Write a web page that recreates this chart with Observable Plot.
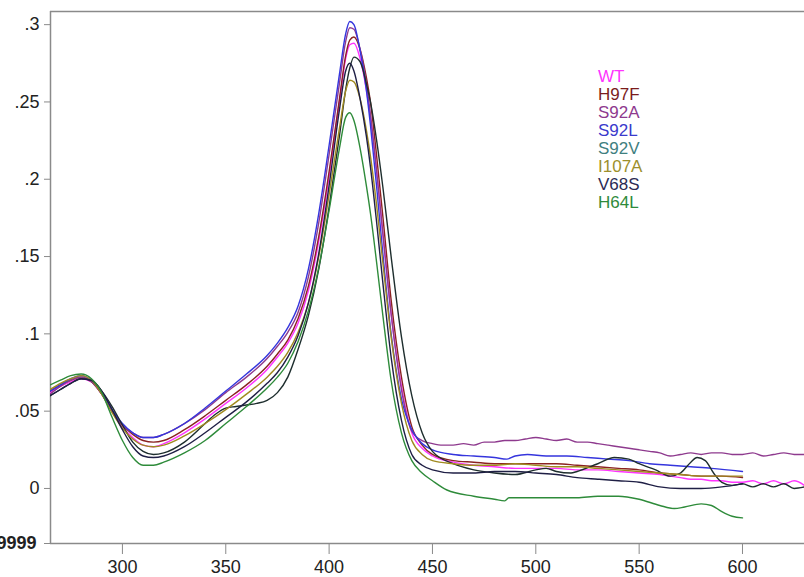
<!DOCTYPE html>
<html><head><meta charset="utf-8">
<script src="https://cdn.jsdelivr.net/npm/d3@7"></script>
<script src="https://cdn.jsdelivr.net/npm/@observablehq/plot@0.6"></script>
<style>
body{margin:0;background:#fff;}
#wrap{position:relative;width:804px;height:577px;font-family:"Liberation Sans",Arial,sans-serif;overflow:hidden;}
#legend{position:absolute;left:598px;top:68px;font-size:17px;line-height:18px;}
#legend div{white-space:nowrap;}
</style></head><body><div id="wrap"><div id="legend"></div></div>
<script>
const names = ["WT","H97F","S92A","S92L","S92V","I107A","V68S","H64L"];
const legendColors = ["#ff33ff","#7b1c1c","#8e3a8e","#3a3acc","#3f8080","#9c8f2c","#2b2b55","#2f8a3a"];
const lineColors = ["#ff33ff","#8b2222","#8e3a8e","#3535dd","#1e2e2e","#a08a20","#1f1f45","#2e8b3a"];
const xTicks = [300,350,400,450,500,550,600];
const yTicks = [0,.05,.1,.15,.2,.25,.3];
const xDomain = [265.2,630];
const yDomain = [-0.0356,0.3085];
const yMinLabel = "-.0359999";

const wt = [[265,.062],[270,.066],[275,.069],[280,.071],[285,.069],[290,.061],[295,.050],[300,.040],[305,.033],[310,.028],[315,.027],[320,.029],[330,.036],[340,.045],[350,.055],[360,.065],[370,.077],[375,.085],[380,.094],[385,.107],[390,.128],[395,.160],[400,.202],[405,.250],[408,.278],[410,.287],[412,.288],[415,.278],[418,.258],[420,.240],[423,.205],[426,.165],[430,.113],[435,.066],[440,.036],[445,.026],[450,.021],[460,.017],[470,.015],[480,.014],[490,.013],[500,.013],[510,.013],[520,.012],[530,.012],[540,.011],[550,.010],[560,.009],[565,.008],[570,.007],[575,.006],[580,.006],[585,.005],[590,.005],[595,.004],[600,.004],[605,.005],[610,.003],[615,.005],[620,.003],[625,.005],[630,.002]];
const h97f = [[265,.063],[270,.067],[275,.070],[280,.072],[285,.069],[290,.061],[295,.050],[300,.041],[305,.035],[310,.031],[315,.030],[320,.031],[330,.038],[340,.047],[350,.057],[360,.067],[370,.079],[375,.087],[380,.096],[385,.110],[390,.131],[395,.163],[400,.205],[405,.252],[408,.280],[410,.290],[412,.292],[415,.284],[418,.266],[420,.250],[423,.215],[426,.176],[430,.122],[435,.072],[440,.040],[445,.028],[450,.022],[460,.018],[470,.017],[480,.016],[490,.016],[500,.016],[510,.016],[520,.015],[530,.014],[540,.013],[550,.012],[560,.010],[570,.009],[580,.008],[590,.008],[600,.007]];
const s92a = [[265,.061],[270,.066],[275,.070],[280,.072],[285,.069],[290,.061],[295,.050],[300,.041],[305,.036],[310,.033],[315,.033],[320,.035],[330,.042],[340,.051],[350,.062],[360,.072],[370,.084],[375,.092],[380,.101],[385,.114],[390,.137],[395,.172],[400,.216],[405,.262],[408,.289],[410,.298],[412,.297],[415,.284],[418,.262],[420,.242],[423,.205],[426,.165],[430,.113],[435,.064],[440,.037],[445,.031],[450,.029],[455,.028],[460,.028],[465,.029],[470,.028],[475,.030],[480,.030],[485,.031],[490,.031],[495,.032],[500,.033],[505,.032],[510,.031],[515,.032],[520,.030],[525,.030],[530,.029],[535,.028],[540,.027],[545,.026],[550,.025],[555,.024],[560,.023],[565,.021],[570,.022],[575,.023],[580,.022],[585,.023],[590,.023],[595,.022],[600,.022],[605,.023],[610,.021],[615,.022],[620,.023],[625,.022],[630,.022]];
const s92l = [[265,.063],[270,.067],[275,.071],[280,.073],[285,.070],[290,.062],[295,.051],[300,.042],[305,.036],[310,.033],[315,.033],[320,.035],[330,.042],[340,.052],[350,.063],[360,.074],[370,.086],[375,.094],[380,.104],[385,.118],[390,.142],[395,.178],[400,.222],[405,.268],[408,.294],[410,.302],[412,.300],[415,.283],[418,.258],[420,.235],[423,.195],[426,.152],[430,.100],[435,.058],[440,.038],[445,.029],[450,.025],[460,.022],[470,.021],[480,.020],[486,.019],[490,.021],[496,.022],[505,.021],[515,.021],[525,.020],[535,.019],[545,.018],[555,.016],[565,.015],[575,.014],[585,.013],[600,.011]];
const s92v = [[265,.060],[270,.064],[275,.068],[280,.071],[285,.070],[290,.063],[295,.053],[300,.041],[305,.030],[310,.024],[315,.022],[320,.023],[330,.030],[340,.042],[345,.048],[350,.052],[355,.053],[360,.054],[365,.055],[370,.057],[375,.062],[380,.072],[385,.090],[390,.112],[395,.142],[400,.182],[405,.228],[408,.258],[410,.272],[412,.279],[415,.276],[418,.262],[420,.250],[423,.225],[426,.195],[430,.150],[435,.098],[440,.060],[445,.036],[450,.024],[460,.016],[470,.012],[480,.010],[490,.009],[500,.012],[505,.013],[510,.011],[517,.010],[520,.011],[530,.016],[538,.020],[545,.019],[550,.016],[558,.012],[565,.008],[570,.010],[575,.017],[578,.020],[582,.018],[586,.010],[590,.004],[595,.002],[600,.003],[605,.001],[610,.003],[615,.001],[620,.003],[625,.000],[630,.001]];
const i107a = [[265,.064],[270,.068],[275,.071],[280,.073],[285,.070],[290,.061],[295,.049],[300,.039],[305,.032],[310,.028],[315,.027],[320,.028],[330,.034],[340,.042],[350,.051],[360,.061],[370,.072],[375,.079],[380,.088],[385,.101],[390,.120],[395,.150],[400,.190],[405,.233],[408,.257],[410,.264],[412,.263],[415,.252],[418,.232],[420,.215],[423,.183],[426,.146],[430,.098],[435,.055],[440,.031],[445,.022],[450,.018],[460,.016],[470,.015],[480,.015],[490,.016],[500,.015],[510,.014],[520,.014],[530,.013],[540,.012],[550,.011],[560,.010],[570,.009],[580,.008],[590,.008],[600,.008]];
const v68s = [[265,.060],[270,.064],[275,.068],[280,.071],[285,.070],[290,.063],[295,.051],[300,.038],[305,.027],[310,.021],[315,.020],[320,.021],[330,.027],[340,.036],[350,.046],[360,.056],[370,.068],[375,.075],[380,.085],[385,.099],[390,.120],[395,.152],[400,.196],[405,.245],[408,.270],[410,.275],[412,.270],[415,.252],[418,.228],[420,.208],[423,.172],[426,.133],[430,.085],[435,.044],[440,.022],[445,.015],[450,.012],[460,.010],[470,.010],[480,.011],[490,.011],[500,.010],[510,.009],[520,.007],[530,.006],[540,.005],[550,.004],[560,.001],[570,.000],[580,.000],[590,.001],[600,.003]];
const h64l = [[265,.067],[270,.070],[275,.073],[280,.074],[285,.071],[290,.062],[295,.046],[300,.031],[305,.020],[310,.015],[315,.015],[320,.017],[330,.023],[340,.031],[350,.042],[360,.053],[370,.065],[375,.072],[380,.081],[385,.095],[390,.115],[395,.143],[400,.180],[405,.220],[408,.240],[410,.243],[412,.238],[415,.220],[418,.196],[420,.178],[423,.146],[426,.112],[430,.070],[435,.036],[440,.018],[445,.010],[450,.005],[457,-.001],[470,-.005],[480,-.007],[485,-.008],[487,-.006],[490,-.006],[500,-.006],[510,-.006],[520,-.006],[530,-.005],[540,-.005],[550,-.007],[560,-.011],[567,-.013],[572,-.012],[580,-.010],[585,-.011],[590,-.015],[595,-.018],[600,-.019]];

const series = [wt,h97f,s92a,s92l,s92v,i107a,v68s,h64l];
const rows = series.flatMap((s,i) => s.map(([w,v]) => ({w, v, name: names[i]})));

const fmtY = d => d === yDomain[0] ? yMinLabel : (d === 0 ? "0" : String(d).replace(/^0/, ""));
const axisGray = "#8a8a8a";

const chart = Plot.plot({
  width: 804, height: 577,
  marginLeft: 50, marginRight: 0, marginTop: 11, marginBottom: 34,
  style: {fontFamily: "'Liberation Sans', Arial, sans-serif", fontSize: "18px", background: "white", color: "#222"},
  x: {domain: xDomain},
  y: {domain: yDomain},
  color: {domain: names, range: lineColors},
  marks: [
    Plot.ruleY([yDomain[1]], {stroke: axisGray, strokeWidth: 1.5}),
    Plot.ruleY([yDomain[0]], {stroke: axisGray, strokeWidth: 1.5}),
    Plot.ruleX([xDomain[0]], {stroke: axisGray, strokeWidth: 1.5}),
    Plot.axisY({ticks: [yDomain[0], ...yTicks], tickFormat: fmtY, tickSize: 6, tickPadding: 5, stroke: axisGray, fill: "#222", fontSize: 18, label: null}),
    Plot.axisX({ticks: xTicks, tickSize: 11, tickPadding: 6, stroke: axisGray, fill: "#222", fontSize: 18, label: null}),
    Plot.line(rows, {x: "w", y: "v", z: "name", stroke: "name", strokeWidth: 1.4, curve: "monotone-x", clip: true})
  ]
});
document.getElementById("wrap").prepend(chart);
d3.select(chart).selectAll("text").filter(function(){ return this.textContent === yMinLabel; }).attr("font-weight", "bold").attr("dx", -3);

const leg = d3.select("#legend");
names.forEach((n,i) => leg.append("div").style("color", legendColors[i]).text(n));
</script>
</body></html>
